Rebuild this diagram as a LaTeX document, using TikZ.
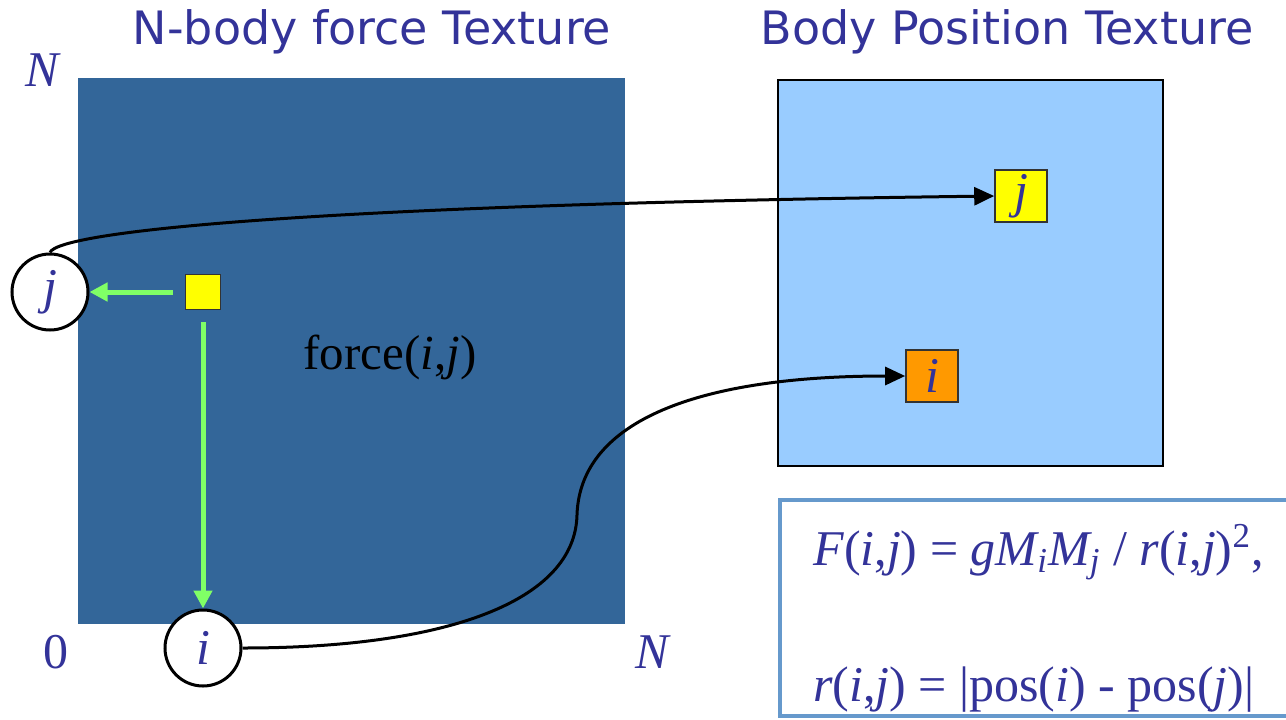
\documentclass[tikz,border=0pt]{standalone}
\usepackage{fontspec}
\setmainfont{Liberation Serif}
\newfontfamily\titlefont{DejaVu Sans}
\usetikzlibrary{arrows.meta}
\definecolor{inkblue}{RGB}{51,51,153}
\definecolor{forcebg}{RGB}{51,102,153}
\definecolor{posbg}{RGB}{153,204,255}
\definecolor{boxline}{RGB}{102,153,204}
\definecolor{flowgreen}{RGB}{128,255,102}
\definecolor{bodyyellow}{RGB}{255,255,0}
\definecolor{bodyorange}{RGB}{255,153,0}

\begin{document}
\begin{tikzpicture}[x=0.5pt, y=-0.5pt,
  title/.style={font=\titlefont\fontsize{23}{27}\selectfont, text=inkblue},
  lbl/.style={font=\fontsize{25}{30}\selectfont\itshape, text=inkblue},
  circ/.style={circle, draw=black, line width=1.5pt, fill=white,
    minimum size=38pt, inner sep=0pt, lbl},
  cell/.style={rectangle, draw=black!80, line width=0.8pt, fill=#1,
    minimum size=26pt, inner sep=0pt, lbl},
  gflow/.style={-{Triangle[length=9pt,width=9pt]}, flowgreen, line width=2.5pt},
  link/.style={-{Triangle[length=10pt,width=9pt]}, black, line width=1.5pt},
  eqn/.style={anchor=west, font=\fontsize{25}{30}\selectfont, text=inkblue}
]
\useasboundingbox (0,0) rectangle (1286,719);

% the two textures
\fill[forcebg] (78,78) rectangle (625,624);
\filldraw[fill=posbg, draw=black, line width=1pt] (778,80) rectangle (1163,466);
\filldraw[fill=white, draw=boxline, line width=2pt] (780,500) rectangle (1310,716);

\node[title] (tforce) at (372,32) {N-body force Texture};
\node[title] (tpos) at (1007,32) {Body Position Texture};

% axis labels
\node[lbl] (ntop) at (42,70) {N};
\node[lbl, font=\fontsize{25}{30}\selectfont] (zero) at (56,652) {0};
\node[lbl] (nright) at (652,652) {N};

\node[font=\fontsize{24.5}{30}\selectfont] (force) at (390,357) {force(\textit{i},\textit{j})};

% cells
\node[cell=bodyyellow, minimum size=17.5pt] (fc) at (203,292) {};
\node[circ] (cj) at (50,292) {j};
\node[circ] (ci) at (203,648) {i};
\node[cell=bodyyellow] (pj) at (1021,196) {j};
\node[cell=bodyorange] (pi) at (932,376) {i};

\draw[gflow, shorten <=6pt] (fc) -- (cj);
\draw[gflow, shorten <=6pt] (fc) -- (ci);

% fetch positions
\coordinate (bend) at (577,515);
\draw[link] (cj.north) .. controls (58,232) and (300,205) .. (pj.west);
\draw[link] (ci.east) .. controls (450,648) and (575,600) .. (bend)
  .. controls (580,420) and (700,376) .. (pi.west);

% force law
\node[eqn] (law) at (806,552) {\textit{F}(\textit{i},\textit{j}) = \textit{gM\textsubscript{i}M\textsubscript{j}} / \textit{r}(\textit{i},\textit{j})\textsuperscript{2},};
\node[eqn] (dist) at (806,690) {\textit{r}(\textit{i},\textit{j}) = |pos(\textit{i}) - pos(\textit{j})|};
\end{tikzpicture}
\end{document}
